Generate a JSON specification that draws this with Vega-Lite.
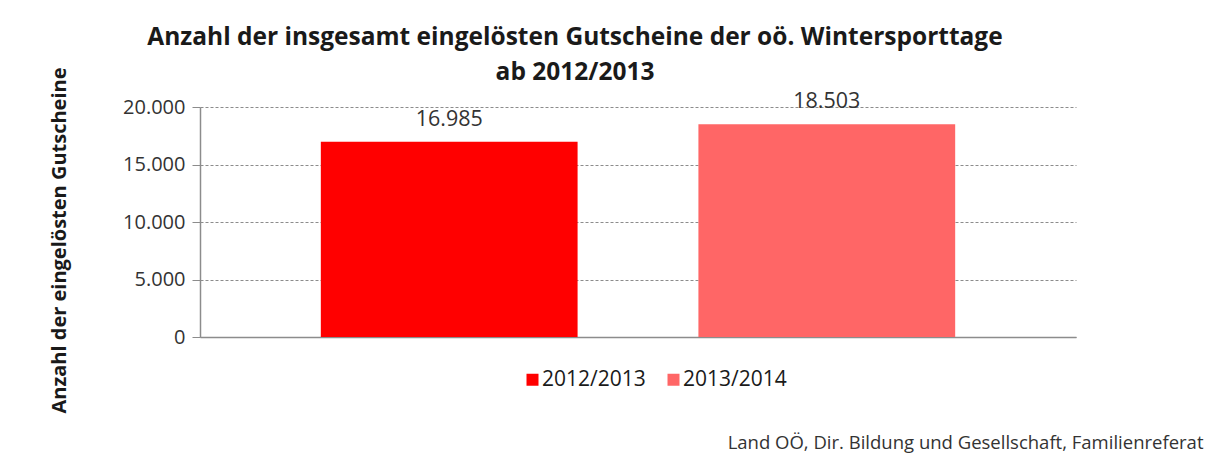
{
  "$schema": "https://vega.github.io/schema/vega-lite/v6.json",
  "autosize": "none",
  "width": 876,
  "height": 230,
  "padding": {"left": 200, "top": 107, "right": 134, "bottom": 122},
  "background": "white",
  "config": {
    "locale": {"number": {"decimal": ",", "thousands": ".", "grouping": [3], "currency": ["", " €"]}},
    "font": "Open Sans",
    "view": {"stroke": null}
  },
  "title": {
    "text": ["Anzahl der insgesamt eingelösten Gutscheine der oö. Wintersporttage", "ab 2012/2013"],
    "font": "Open Sans",
    "fontSize": 24.5,
    "fontWeight": "bold",
    "color": "#1a1a1a",
    "anchor": "middle",
    "dx": -63,
    "dy": 13,
    "offset": -5,
    "lineHeight": 35
  },
  "data": {
    "values": [
      {"Saison": "2012/2013", "Gutscheine": 16985},
      {"Saison": "2013/2014", "Gutscheine": 18503}
    ]
  },
  "encoding": {
    "x": {
      "field": "Saison",
      "type": "nominal",
      "sort": null,
      "scale": {"paddingInner": 0.32, "paddingOuter": 0.32},
      "axis": {
        "labels": false,
        "ticks": false,
        "domainColor": "#8c8c8c",
        "domainWidth": 1.5,
        "title": "Land OÖ, Dir. Bildung und Gesellschaft, Familienreferat",
        "titleFont": "Open Sans",
        "titleFontSize": 18.5,
        "titleFontWeight": "normal",
        "titleColor": "#333333",
        "titleX": 1003,
        "titleY": 111,
        "titleAlign": "right",
        "titleAnchor": null,
        "titleBaseline": "alphabetic"
      }
    },
    "y": {
      "field": "Gutscheine",
      "type": "quantitative",
      "scale": {"domain": [0, 20000], "nice": false},
      "axis": {
        "values": [0, 5000, 10000, 15000, 20000],
        "format": ",d",
        "labelFont": "Open Sans",
        "labelFontSize": 20,
        "labelColor": "#333333",
        "labelPadding": 7,
        "tickSize": 8,
        "tickColor": "#8c8c8c",
        "domainColor": "#8c8c8c",
        "domainWidth": 1.5,
        "grid": true,
        "gridColor": "#8c8c8c",
        "gridDash": [3, 2],
        "gridWidth": 1,
        "title": "Anzahl der eingelösten Gutscheine",
        "titleFont": "Open Sans",
        "titleFontSize": 20,
        "titleFontWeight": "bold",
        "titleColor": "#1a1a1a",
        "titleX": -135,
        "titleY": 133,
        "titleAngle": -90,
        "titleAlign": "center",
        "titleBaseline": "alphabetic"
      }
    }
  },
  "layer": [
    {
      "mark": {"type": "bar"},
      "encoding": {
        "color": {
          "field": "Saison",
          "type": "nominal",
          "sort": null,
          "scale": {"domain": ["2012/2013", "2013/2014"], "range": ["#ff0000", "#ff6666"]},
          "legend": {
            "title": null,
            "orient": "none",
            "direction": "horizontal",
            "legendX": 322,
            "legendY": 262,
            "symbolType": "square",
            "symbolSize": 144,
            "symbolStrokeWidth": 0,
            "labelFont": "Open Sans",
            "labelFontSize": 21,
            "labelColor": "#1a1a1a",
            "labelOffset": -1,
            "columnPadding": 17
          }
        }
      }
    },
    {
      "mark": {"type": "text", "baseline": "alphabetic", "dy": -16, "font": "Open Sans", "fontSize": 21.5, "color": "#333333"},
      "encoding": {
        "text": {"field": "Gutscheine", "type": "quantitative", "format": ",d"}
      }
    }
  ]
}
